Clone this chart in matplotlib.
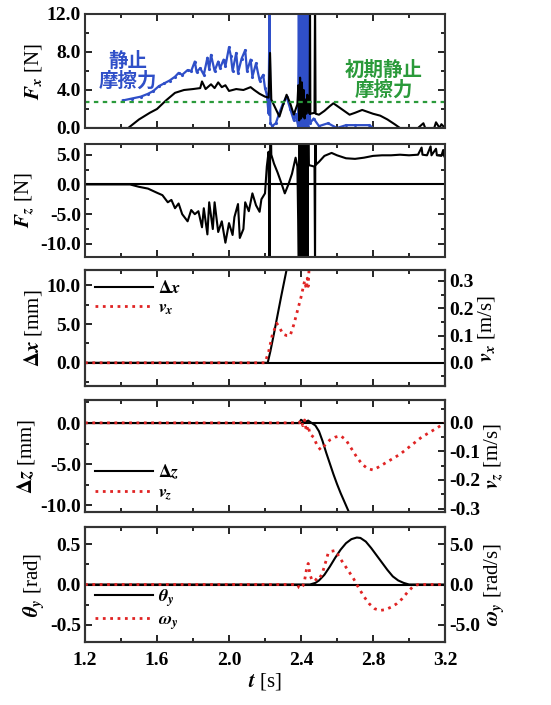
import matplotlib
matplotlib.use('Agg')
from matplotlib import pyplot as plt
from matplotlib.ticker import MultipleLocator, FormatStrFormatter

plt.rcParams['font.family'] = ['Liberation Serif', 'DejaVu Serif']
plt.rcParams['mathtext.fontset'] = 'stix'
plt.rcParams['font.size'] = 14
plt.rcParams['font.weight'] = 'bold'

BLUE = '#2f4fc8'
GREEN = '#2a9a3a'
RED = '#e02424'
CJK = ['Noto Sans CJK JP', 'DejaVu Sans']

# ---- Fx (black) ----
fx_t = [1.20, 1.44, 1.50, 1.56, 1.60, 1.65, 1.70, 1.75, 1.80, 1.84, 1.85, 1.87, 1.90, 1.92,
        1.94, 1.96, 1.98, 2.00, 2.04, 2.08, 2.12, 2.14, 2.17, 2.20, 2.22, 2.228, 2.235, 2.26,
        2.28, 2.30, 2.32, 2.34, 2.36, 2.38, 2.385, 2.39, 2.395, 2.40, 2.405, 2.41, 2.415,
        2.42, 2.425, 2.43, 2.435, 2.44, 2.448, 2.45, 2.452, 2.475, 2.478, 2.481, 2.50, 2.53,
        2.56, 2.58, 2.61, 2.64, 2.67, 2.70, 2.74, 2.77, 2.80, 2.84, 2.88, 2.92, 2.95, 3.05,
        3.08, 3.09, 3.14, 3.15, 3.17, 3.18, 3.20]
fx_v = [0.0, 0.0, 0.9, 1.6, 2.0, 2.9, 3.7, 4.0, 4.1, 4.2, 4.9, 4.1, 4.6, 4.2,
        4.8, 4.3, 4.5, 3.9, 4.1, 4.0, 4.3, 4.0, 3.6, 3.3, 3.2, 7.9, 3.0, 2.0,
        1.2, 2.4, 3.5, 2.6, 1.4, 2.5, 4.5, 0.8, 5.3, 1.0, 4.8, 1.2, 4.0,
        1.0, 3.0, 1.5, 3.5, 2.0, 1.5, 14.0, 1.5, 1.6, 14.0, 1.5, 1.4, 1.8,
        2.3, 2.6, 2.2, 1.8, 1.4, 1.6, 1.9, 1.7, 1.5, 1.3, 0.9, 0.4, 0.0, 0.0,
        0.5, 0.0, 0.0, 0.6, 0.0, 0.4, 0.0]

# ---- static friction (blue) ----
sf_t = [1.41, 1.46, 1.51, 1.55, 1.58, 1.61, 1.64, 1.67, 1.70, 1.72, 1.74, 1.77, 1.79, 1.81,
        1.82, 1.84, 1.86, 1.88, 1.89, 1.90, 1.92, 1.94, 1.95, 1.97, 1.98, 2.00, 2.01, 2.02,
        2.04, 2.05, 2.07, 2.09, 2.10, 2.12, 2.13, 2.15, 2.17, 2.19, 2.20, 2.21, 2.22, 2.225,
        2.23, 2.24, 2.26, 2.28, 2.30, 2.32, 2.34, 2.36, 2.37, 2.384, 2.388, 2.392, 2.396,
        2.400, 2.404, 2.408, 2.412, 2.416, 2.420, 2.424, 2.428, 2.432, 2.436, 2.440, 2.444,
        2.45, 2.47, 2.50, 2.55, 2.60, 2.65, 2.70, 2.78, 2.80]
sf_v = [2.9, 3.1, 3.3, 3.6, 3.9, 4.4, 4.7, 5.0, 5.4, 5.8, 5.6, 6.1, 6.0, 7.0,
        5.9, 6.3, 5.6, 7.4, 6.2, 7.7, 6.0, 7.0, 6.3, 7.2, 6.5, 8.5, 7.6, 6.0,
        7.9, 5.8, 7.3, 8.2, 6.0, 7.2, 5.4, 6.8, 5.0, 5.6, 4.2, 3.5, 1.5, 13.0,
        0.5, 0.2, 0.5, 1.6, 2.6, 3.3, 2.0, 0.8, 1.5, 0.2, 13.0, 0.1, 13.0,
        0.2, 13.0, 0.1, 13.0, 0.2, 13.0, 0.1, 13.0, 0.2, 13.0, 0.1, 13.0,
        0.5, 1.0, 0.2, 0.5, 0.0, 0.3, 0.3, 0.3, 0.0]
sf_init = 2.75

# ---- Fz ----
fz_t = [1.20, 1.45, 1.50, 1.55, 1.60, 1.63, 1.66, 1.68, 1.70, 1.72, 1.74, 1.77, 1.79, 1.81,
        1.83, 1.85, 1.86, 1.88, 1.89, 1.91, 1.92, 1.94, 1.96, 1.98, 2.00, 2.02, 2.03, 2.05,
        2.06, 2.08, 2.09, 2.11, 2.13, 2.15, 2.17, 2.18, 2.20, 2.21, 2.22, 2.225, 2.23, 2.235,
        2.25, 2.27, 2.29, 2.31, 2.33, 2.35, 2.37, 2.38, 2.388, 2.392, 2.396, 2.400, 2.404,
        2.408, 2.412, 2.416, 2.420, 2.424, 2.428, 2.432, 2.436, 2.440, 2.444, 2.45, 2.475,
        2.478, 2.48, 2.482, 2.50, 2.53, 2.57, 2.60, 2.65, 2.70, 2.75, 2.80, 2.85, 2.90, 2.95,
        3.00, 3.05, 3.07, 3.075, 3.10, 3.12, 3.125, 3.15, 3.155, 3.18, 3.19, 3.195, 3.20]
fz_v = [0.0, 0.0, -0.4, -0.7, -1.4, -1.8, -3.0, -2.6, -4.0, -3.2, -5.0, -6.2, -4.3, -5.0,
        -4.5, -7.2, -4.0, -8.4, -3.0, -7.5, -3.0, -8.0, -6.2, -9.8, -6.5, -8.5, -5.5, -3.3,
        -9.0, -7.5, -3.0, -4.5, -1.5, -3.5, -4.6, -2.5, -1.5, 3.0, 5.5, -14.0, 14.0, 5.0,
        3.5, 2.0, 0.3, -1.5, 0.0, 1.8, 4.5, 3.0, -14.0, 14.0, -14.0, 14.0, -14.0,
        14.0, -14.0, 14.0, -14.0, 14.0, -14.0, 14.0, -14.0, 14.0, 3.2, 3.2, 3.0,
        -14.0, 14.0, 3.3, 3.8, 4.8, 5.3, 4.9, 4.4, 4.3, 4.5, 4.8, 4.9, 4.9, 5.0,
        4.9, 5.0, 6.2, 5.0, 4.9, 6.4, 4.9, 6.0, 4.9, 4.8, 5.8, 4.8, 4.5]

# ---- dx / vx ----
dx_t = [1.20, 2.215, 2.23, 2.25, 2.27, 2.29, 2.31, 2.325]
dx_v = [0.0, 0.0, 1.5, 3.8, 6.2, 8.6, 10.9, 12.6]
vx_t = [1.20, 2.20, 2.22, 2.24, 2.265, 2.28, 2.30, 2.32, 2.34, 2.36, 2.38, 2.40, 2.42,
        2.43, 2.435, 2.44, 2.445]
vx_v = [0.0, 0.0, 0.04, 0.10, 0.145, 0.13, 0.105, 0.10, 0.10, 0.14, 0.19, 0.24, 0.30,
        0.27, 0.31, 0.28, 0.35]

# ---- dz / vz ----
dz_t = [1.20, 2.39, 2.40, 2.42, 2.44, 2.46, 2.48, 2.50, 2.52, 2.54, 2.56, 2.58, 2.60,
        2.62, 2.64, 2.66, 2.68]
dz_v = [0.0, 0.0, 0.4, 0.1, 0.3, 0.0, -0.3, -1.0, -2.2, -3.6, -4.9, -6.2, -7.4,
        -8.5, -9.5, -10.5, -11.5]
vz_t = [1.20, 2.39, 2.40, 2.41, 2.42, 2.43, 2.44, 2.45, 2.47, 2.49, 2.51, 2.53, 2.56,
        2.59, 2.62, 2.65, 2.68, 2.71, 2.74, 2.77, 2.80, 2.83, 2.87, 2.91, 2.95, 2.99,
        3.03, 3.07, 3.11, 3.15, 3.20]
vz_v = [0.0, 0.0, 0.01, -0.01, 0.01, -0.03, -0.01, -0.04, -0.05, -0.08, -0.095, -0.08, -0.06,
        -0.05, -0.045, -0.06, -0.09, -0.12, -0.145, -0.16, -0.165, -0.155, -0.14, -0.125,
        -0.11, -0.09, -0.07, -0.05, -0.035, -0.02, 0.0]

# ---- theta / omega ----
th_t = [1.20, 2.45, 2.48, 2.50, 2.53, 2.56, 2.59, 2.62, 2.65, 2.68, 2.71, 2.73, 2.76,
        2.79, 2.82, 2.85, 2.88, 2.91, 2.94, 2.97, 3.00, 3.20]
th_v = [0.0, 0.0, 0.02, 0.05, 0.12, 0.22, 0.33, 0.43, 0.51, 0.56, 0.58, 0.575, 0.53,
        0.45, 0.36, 0.27, 0.18, 0.10, 0.05, 0.02, 0.0, 0.0]
om_t = [1.20, 2.38, 2.39, 2.40, 2.41, 2.42, 2.43, 2.44, 2.45, 2.46, 2.47, 2.49, 2.50,
        2.52, 2.54, 2.55, 2.57, 2.59, 2.61, 2.63, 2.66, 2.69, 2.72, 2.75, 2.78, 2.81,
        2.84, 2.87, 2.90, 2.93, 2.96, 2.99, 3.02, 3.05, 3.20]
om_v = [0.0, 0.0, -0.4, -0.5, -0.2, 0.5, 1.8, 2.6, 1.2, 0.6, 0.8, 0.5, 0.6,
        1.5, 3.0, 3.8, 4.1, 4.2, 3.5, 2.8, 1.8, 0.8, -0.4, -1.5, -2.4, -3.0,
        -3.2, -3.1, -2.8, -2.4, -1.8, -1.0, -0.3, 0.0, 0.0]

W, H = 551, 705
fig = plt.figure(figsize=(W / 100, H / 100), dpi=100)
L, R = 85, 445
boxes = [(14, 128), (144, 257), (270, 386), (400, 512), (527, 642)]
axes = []
for top, bot in boxes:
    ax = fig.add_axes([L / W, 1 - bot / H, (R - L) / W, (bot - top) / H])
    axes.append(ax)


def style(ax, right=True):
    ax.set_xlim(1.2, 3.2)
    ax.xaxis.set_major_locator(MultipleLocator(0.4))
    ax.xaxis.set_minor_locator(MultipleLocator(0.2))
    ax.tick_params(which='both', direction='in', top=True, right=right, width=1.2)
    ax.tick_params(which='major', length=5, pad=3)
    ax.tick_params(which='minor', length=3)
    for s in ax.spines.values():
        s.set_linewidth(1.5)
        s.set_color('#333333')


for ax in axes[:-1]:
    style(ax)
    ax.tick_params(labelbottom=False)
style(axes[-1])
axes[-1].xaxis.set_major_formatter(FormatStrFormatter('%.1f'))
axes[-1].tick_params(axis='x', pad=7)
axes[-1].set_xlabel(r'$t$ [s]', fontsize=15, labelpad=2)

# panel 1
ax = axes[0]
ax.plot(sf_t, sf_v, color=BLUE, lw=1.6, marker='.', ms=2.5)
ax.plot(fx_t, fx_v, color='black', lw=1.5)
ax.axhline(sf_init, color=GREEN, ls=(0, (2, 2)), lw=1.6)
ax.set_ylim(0, 12)
ax.yaxis.set_major_locator(MultipleLocator(4))
ax.yaxis.set_minor_locator(MultipleLocator(2))
ax.yaxis.set_major_formatter(FormatStrFormatter('%.1f'))
ax.set_ylabel(r'$F_x$ [N]', fontsize=15, labelpad=2)
ax.text(1.44, 6.0, '静止\n摩擦力', color=BLUE, family=CJK, fontsize=14,
        fontweight='bold', ha='center', va='center', linespacing=1.05)
ax.text(2.86, 5.0, '初期静止\n摩擦力', color=GREEN, family=CJK, fontsize=14,
        fontweight='bold', ha='center', va='center', linespacing=1.05)

# panel 2
ax = axes[1]
ax.axhline(0, color='black', lw=1.5)
ax.plot(fz_t, fz_v, color='black', lw=1.5)
ax.set_ylim(-12.2, 6.8)
ax.yaxis.set_major_locator(MultipleLocator(5))
ax.yaxis.set_minor_locator(MultipleLocator(2.5))
ax.yaxis.set_major_formatter(FormatStrFormatter('%.1f'))
ax.set_ylabel(r'$F_z$ [N]', fontsize=15, labelpad=2)


def twin_panel(ax, t1, v1, t2, v2, lim1, lim2, loc1, loc2, lab1, lab2, leg1, leg2,
               legloc, fmt2):
    ax.tick_params(right=False, which='both')
    ax.axhline(0, color='black', lw=1.5)
    l1, = ax.plot(t1, v1, color='black', lw=1.5)
    ax.set_ylim(*lim1)
    ax.yaxis.set_major_locator(MultipleLocator(loc1))
    ax.yaxis.set_minor_locator(MultipleLocator(loc1 / 2))
    ax.yaxis.set_major_formatter(FormatStrFormatter('%.1f'))
    ax.set_ylabel(lab1, fontsize=15, labelpad=2)
    tw = ax.twinx()
    l2, = tw.plot(t2, v2, color=RED, lw=2.0, ls=':')
    tw.set_ylim(*lim2)
    tw.yaxis.set_major_locator(MultipleLocator(loc2))
    tw.yaxis.set_minor_locator(MultipleLocator(loc2 / 2))
    tw.yaxis.set_major_formatter(FormatStrFormatter(fmt2))
    tw.tick_params(which='both', direction='in', width=1.2)
    tw.tick_params(which='major', length=5, pad=3)
    tw.tick_params(which='minor', length=3)
    tw.set_ylabel(lab2, fontsize=15, labelpad=2)
    for s in tw.spines.values():
        s.set_linewidth(1.5)
        s.set_color('#333333')
    ax.legend([l1, l2], [leg1, leg2], loc=legloc, frameon=False, handlelength=3.2,
              fontsize=13, borderaxespad=0.15, labelspacing=0.15, handletextpad=0.3)


twin_panel(axes[2], dx_t, dx_v, vx_t, vx_v, (-3, 12), (-0.085, 0.34), 5, 0.1,
           r'$\Delta x$ [mm]', r'$v_x$ [m/s]', r'$\Delta x$', r'$v_x$', 'upper left', '%.1f')
twin_panel(axes[3], dz_t, dz_v, vz_t, vz_v, (-10.8, 2.8), (-0.312, 0.08), 5, 0.1,
           r'$\Delta z$ [mm]', r'$v_z$ [m/s]', r'$\Delta z$', r'$v_z$', 'lower left', '%.1f')
twin_panel(axes[4], th_t, th_v, om_t, om_v, (-0.71, 0.71), (-7.1, 7.1), 0.5, 5,
           r'$\theta_y$ [rad]', r'$\omega_y$ [rad/s]', r'$\theta_y$', r'$\omega_y$',
           'lower left', '%.1f')

fig.savefig('out.png', dpi=100)
